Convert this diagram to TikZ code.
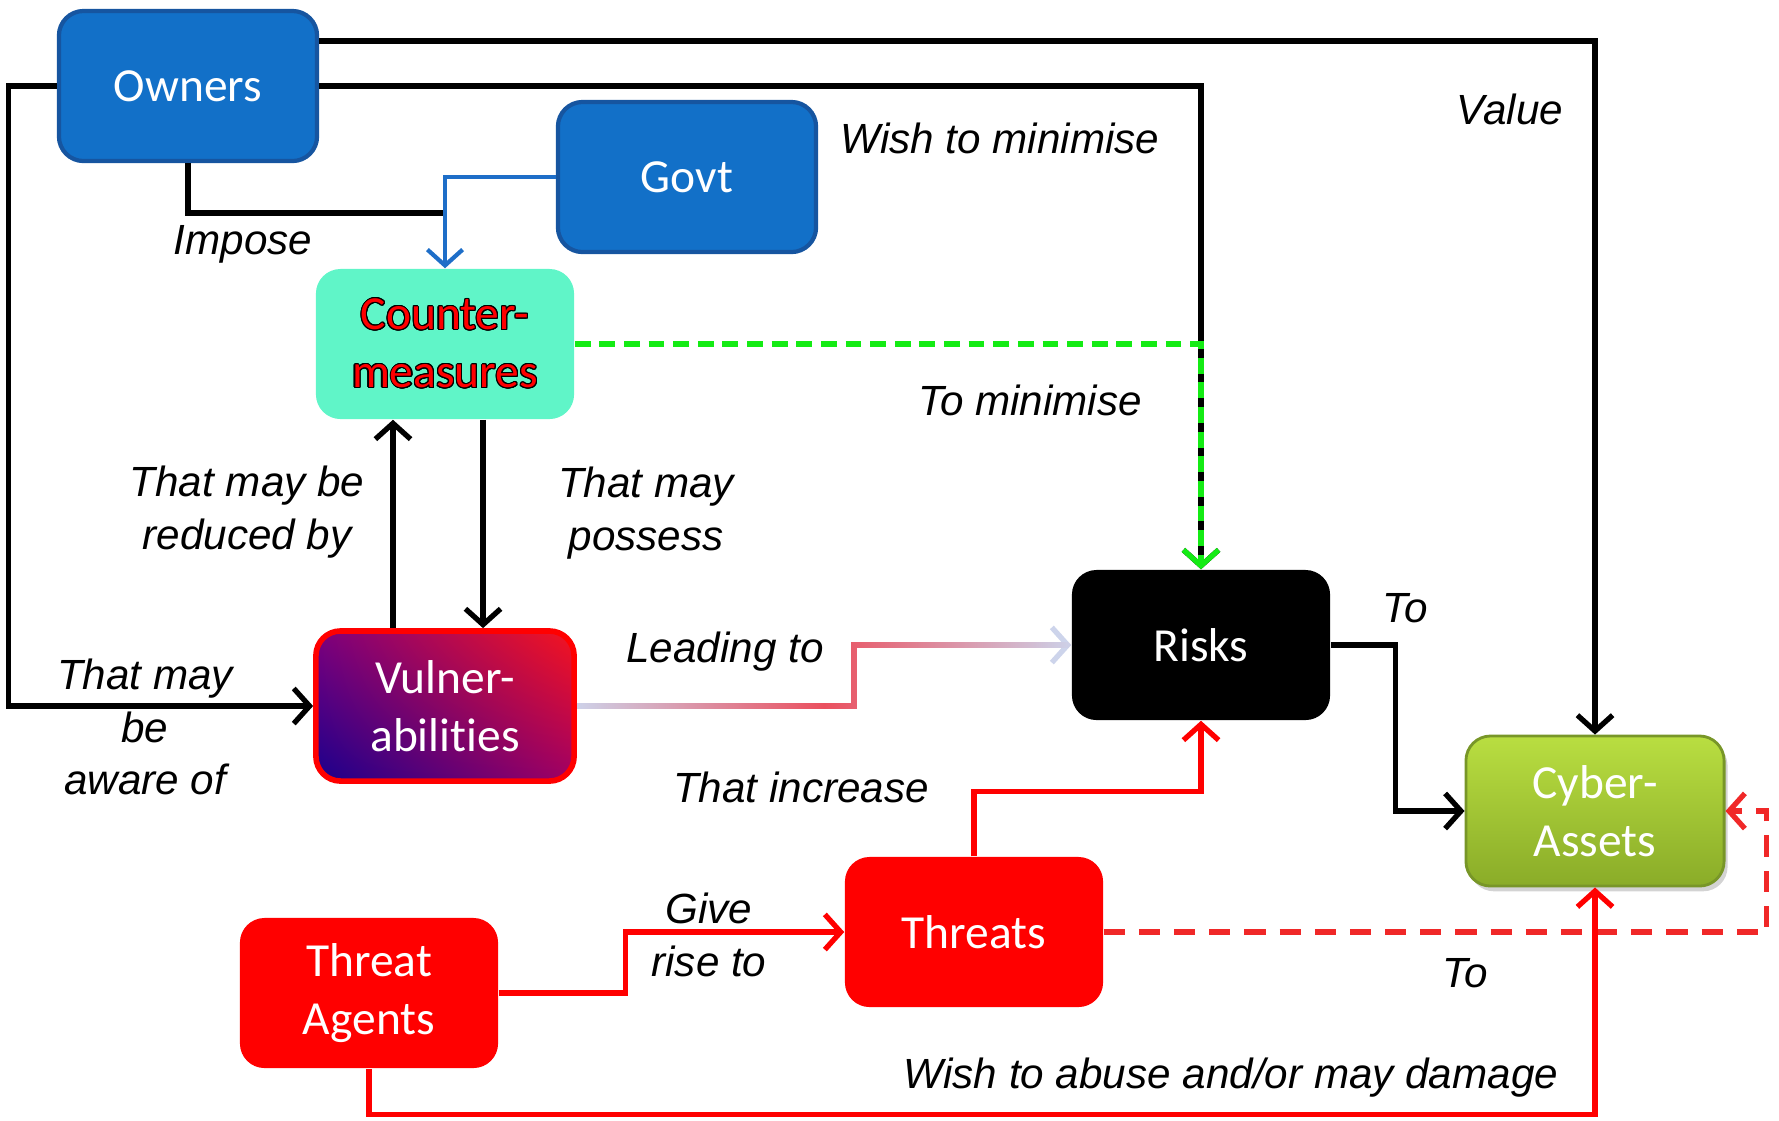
\documentclass[tikz,border=0pt]{standalone}
\usepackage{fontspec}
\setmainfont{Liberation Sans}
\newfontfamily\boxfont[Ligatures=NoCommon]{Carlito}
\usepackage{contour}
\contourlength{0.3pt}
\usetikzlibrary{arrows.meta, shadings, shadows, fadings}

\definecolor{ownerblue}{RGB}{18,112,200}
\definecolor{ownerrim}{RGB}{22,85,160}
\definecolor{lineblue}{RGB}{30,110,200}
\definecolor{mint}{RGB}{96,245,200}
\definecolor{limetop}{RGB}{185,222,65}
\definecolor{limebot}{RGB}{138,172,40}
\definecolor{limerim}{RGB}{120,150,40}
\definecolor{haze}{RGB}{205,212,235}
\definecolor{rose}{RGB}{235,80,95}
\definecolor{dashgreen}{RGB}{20,235,20}
\definecolor{dashred}{RGB}{240,40,40}

\tikzfading[name=midglow, left color=transparent!100, right color=transparent!100, middle color=transparent!0]

\begin{document}
\begin{tikzpicture}[x=0.01cm, y=-0.01cm,
  box/.style={rounded corners=7pt, minimum width=2.58cm, minimum height=1.5cm,
    align=center, text=white, font=\boxfont\fontsize{13.5}{16.5}\selectfont},
  lbl/.style={font=\itshape\fontsize{12}{15}\selectfont, align=center},
  arr/.style={line width=1.5pt, -{Straight Barb[length=4.5pt,width=10pt]}}]

\useasboundingbox (0,0) rectangle (1779,1120);

% boxes
\node[box, fill=ownerblue, draw=ownerrim, line width=1.2pt] (owners) at (188,86) {Owners};
\node[box, fill=ownerblue, draw=ownerrim, line width=1.2pt] (govt) at (687,177) {Govt};
\node[box, fill=mint, text=red] (counter) at (445,344)
  {\contour{black}{Counter-}\\\contour{black}{measures}};
\node[box, draw=red, line width=1.6pt, shade,
  lower left={rgb,255:red,25;green,0;blue,140},
  upper left={rgb,255:red,125;green,0;blue,125},
  lower right={rgb,255:red,160;green,0;blue,100},
  upper right={rgb,255:red,245;green,20;blue,30}] (vuln) at (445,706) {Vulner-\\abilities};
\node[box, fill=black] (risks) at (1201,645) {Risks};
\node[box, top color=limetop, bottom color=limebot, draw=limerim, line width=0.8pt,
  drop shadow={shadow xshift=1pt, shadow yshift=-1.5pt, opacity=0.35}] (assets) at (1595,811) {Cyber-\\Assets};
\node[box, fill=red] (threats) at (974,932) {Threats};
\node[box, fill=red] (agents) at (369,993) {Threat\\Agents};

\coordinate (govtjoin) at (445,213);

% owners
\draw[arr] ([yshift=0.45cm]owners.east) -| (assets.north);
\draw[arr] (owners.east) -| (risks.north);
\draw[arr] (owners.west) -- ++(-48,0) |- (vuln.west);
\draw[line width=1.5pt] (owners.south) |- (govtjoin);
\draw[arr, draw=lineblue, line width=1.2pt] (govt.west) -| (counter.north);

% countermeasures and vulnerabilities
\draw[arr, draw=dashgreen, dash pattern=on 4.5pt off 2.5pt] (counter.east) -| (risks.north);
\draw[arr] ([xshift=-0.52cm]vuln.north) -- ([xshift=-0.52cm]counter.south);
\draw[arr] ([xshift=0.38cm]counter.south) -- ([xshift=0.38cm]vuln.north);
\draw[arr, draw=haze] (vuln.east) -- ++(277,0) |- (risks.west);
\draw[line width=1.5pt, draw=rose, path fading=midglow] (vuln.east) -- ++(277,0) |- (risks.west);

% risks and threats
\draw[arr] (risks.east) -- ++(65,0) |- (assets.west);
\draw[arr, draw=red] (threats.north) -- ++(0,-65) -| (risks.south);
\draw[arr, draw=red] (agents.east) -- ++(127,0) |- (threats.west);
\draw[arr, draw=dashred, dash pattern=on 6pt off 4pt] (threats.east) -- ++(663,0) |- (assets.east);
\draw[arr, draw=red] (agents.south) -- ++(0,46) -| (assets.south);

% labels
\node[lbl] (limpose) at (243,244) {Impose};
\node[lbl] (lwish) at (1000,138) {Wish to minimise};
\node[lbl] (lvalue) at (1510,109) {Value};
\node[lbl] (ltomin) at (1030,400) {To minimise};
\node[lbl] (lreduced) at (247,512) {That may be\\reduced by};
\node[lbl] (lpossess) at (646,513) {That may\\possess};
\node[lbl] (laware) at (145,727) {That may\\be\\aware of};
\node[lbl] (lleading) at (725,652) {Leading to};
\node[lbl] (ltorisk) at (1405,608) {To};
\node[lbl] (lincrease) at (801,787) {That increase};
\node[lbl] (lgive) at (709,935) {Give\\rise to};
\node[lbl] (ltothreat) at (1465,973) {To};
\node[lbl] (labuse) at (1231,1078) {Wish to abuse and/or may damage};

\end{tikzpicture}
\end{document}
